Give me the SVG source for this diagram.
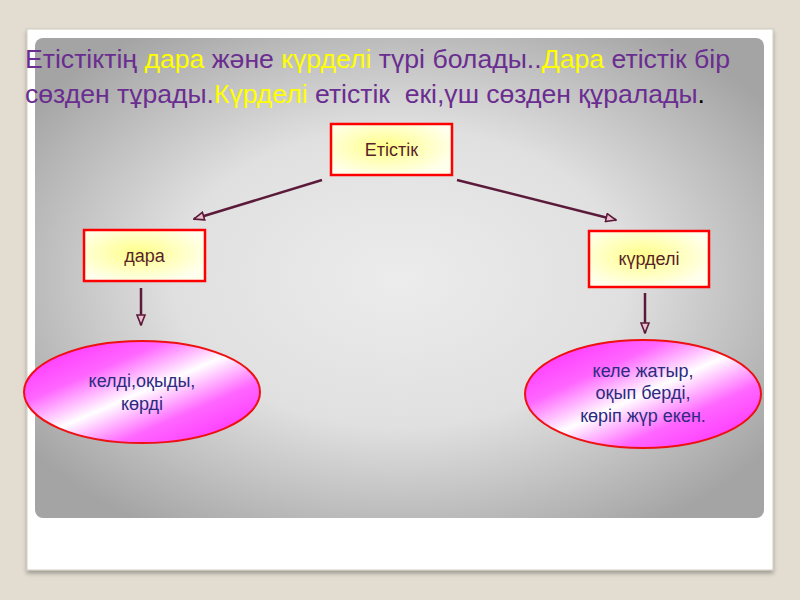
<svg xmlns="http://www.w3.org/2000/svg" width="800" height="600" viewBox="0 0 800 600">
<defs>
<radialGradient id="bg" cx="0.5" cy="0.5" r="0.62">
<stop offset="0" stop-color="#ececec"/>
<stop offset="0.5" stop-color="#e0e0e0"/>
<stop offset="1" stop-color="#a4a4a4"/>
</radialGradient>
<radialGradient id="box" cx="0.45" cy="0.45" r="0.6">
<stop offset="0" stop-color="#ffff88"/>
<stop offset="1" stop-color="#ffffee"/>
</radialGradient>
<linearGradient id="ell" x1="0" y1="0" x2="1" y2="1">
<stop offset="0" stop-color="#ff22ff"/>
<stop offset="0.3" stop-color="#ff66ff"/>
<stop offset="0.5" stop-color="#ffffff"/>
<stop offset="0.7" stop-color="#ff66ff"/>
<stop offset="1" stop-color="#ff22ff"/>
</linearGradient>
<filter id="sh" x="-5%" y="-5%" width="110%" height="115%">
<feDropShadow dx="0" dy="3" stdDeviation="2" flood-color="#000" flood-opacity="0.3"/>
</filter>
<marker id="ah" viewBox="0 0 12 10" refX="11" refY="5" markerWidth="12" markerHeight="10" markerUnits="userSpaceOnUse" orient="auto">
<path d="M1,1 L11,5 L1,9 Z" fill="#e8c0d0" stroke="#5c1a3a" stroke-width="1.6"/>
</marker>
<style>
.bx{fill:url(#box);stroke:#ff0000;stroke-width:2.5}
.el{fill:url(#ell);stroke:#ee1111;stroke-width:2}
.bt{font-family:"Liberation Sans",Arial,sans-serif;font-size:18px;fill:#5a1f2a;text-anchor:middle}
.et{font-family:"Liberation Sans",Arial,sans-serif;font-size:18px;fill:#2b2b80;text-anchor:middle}
.ttl{font-family:"Liberation Sans",Arial,sans-serif;font-size:26px;fill:#6a2d90}
.y{fill:#ffff00}
.cn{stroke:#5c1a3a;stroke-width:2.5;fill:none;marker-end:url(#ah)}
</style>
</defs>
<rect width="800" height="600" fill="#e3ddd1"/>
<rect x="27" y="29" width="746" height="541" fill="#ffffff" stroke="#cfcabe" stroke-width="1" filter="url(#sh)"/>
<rect x="35" y="38" width="729" height="480" rx="8" fill="url(#bg)"/>
<text class="ttl" x="25" y="68" textLength="705" lengthAdjust="spacingAndGlyphs">Етістіктің <tspan class="y">дара</tspan> және <tspan class="y">күрделі</tspan> түрі болады..<tspan class="y">Дара</tspan> етістік бір</text>
<text class="ttl" x="25" y="103" textLength="680" lengthAdjust="spacingAndGlyphs" xml:space="preserve">сөзден тұрады.<tspan class="y">Күрделі</tspan> етістік  екі,үш сөзден құралады<tspan fill="#000">.</tspan></text>
<g id="connectors">
<line class="cn" x1="322" y1="180" x2="194" y2="219"/>
<line class="cn" x1="457" y1="180" x2="616" y2="220"/>
<line class="cn" x1="141" y1="288" x2="141" y2="325"/>
<line class="cn" x1="645" y1="293" x2="645" y2="333"/>
</g>
<g id="etistik">
<rect class="bx" x="331" y="124" width="121" height="51"/>
<text class="bt" x="391.5" y="156">Етістік</text>
</g>
<g id="dara">
<rect class="bx" x="84" y="230" width="121" height="51"/>
<text class="bt" x="144.5" y="262">дара</text>
</g>
<g id="kurdeli">
<rect class="bx" x="589" y="231" width="120" height="56"/>
<text class="bt" x="649" y="265">күрделі</text>
</g>
<g id="dara-ex">
<ellipse class="el" cx="142" cy="392" rx="118" ry="51"/>
<text class="et" x="142" y="387">келді,оқыды,</text>
<text class="et" x="142" y="410">көрді</text>
</g>
<g id="kurdeli-ex">
<ellipse class="el" cx="643" cy="394" rx="118" ry="54"/>
<text class="et" x="643" y="377">келе жатыр,</text>
<text class="et" x="643" y="399">оқып берді,</text>
<text class="et" x="643" y="422">көріп жүр екен.</text>
</g>
</svg>
